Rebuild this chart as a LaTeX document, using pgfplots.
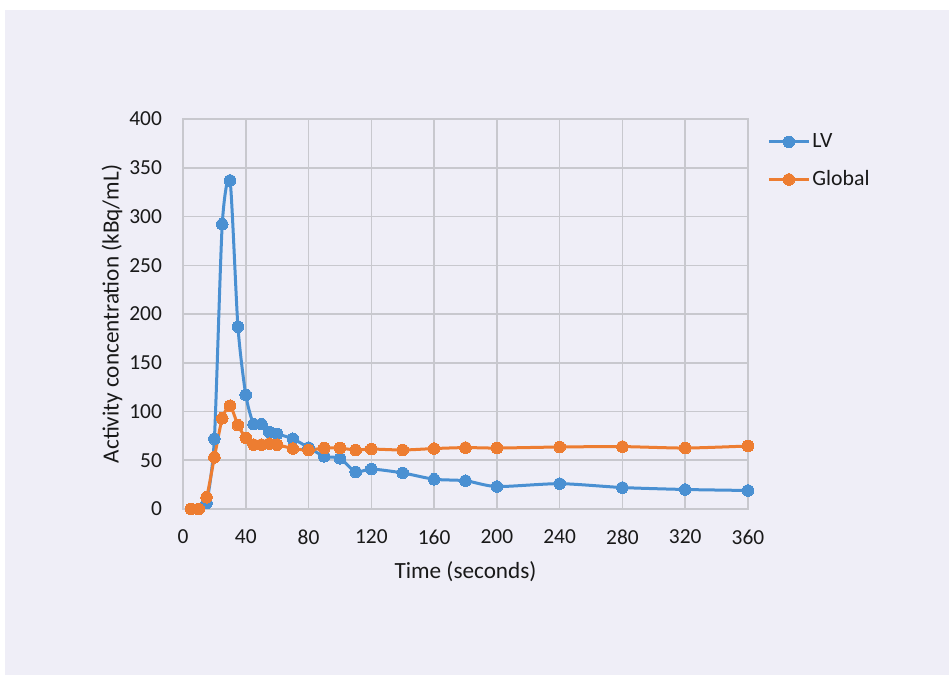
\documentclass[border=0pt]{standalone}
\usepackage{fontspec}
\setmainfont{Carlito}
\usepackage{pgfplots}
\pgfplotsset{compat=1.18}
\definecolor{bg}{RGB}{239,238,247}
\definecolor{lvblue}{RGB}{74,144,210}
\definecolor{glorange}{RGB}{237,125,49}
\definecolor{gridgray}{RGB}{200,200,206}
\begin{document}
\begin{tikzpicture}[x=1pt,y=1pt]
\path[fill=white] (0,0) rectangle (474.5,337.5);
\path[fill=bg] (2.5,0) rectangle (474.5,332.5);
\begin{axis}[
  at={(91.5pt,83pt)}, anchor=south west,
  scale only axis, width=282.5pt, height=195pt,
  xmin=0, xmax=360, ymin=0, ymax=400,
  xtick={0,40,...,360}, ytick={0,50,...,400},
  grid=major, major grid style={gridgray, line width=0.75pt},
  axis line style={gridgray, line width=0.75pt},
  major tick length=0pt,
  /pgf/number format/assume math mode=true,
  tick label style={font=\fontsize{10.7}{12}\selectfont, text=black!90},
  xticklabel style={yshift=-7pt},
  yticklabel style={xshift=-7pt},
  xlabel={Time (seconds)},
  ylabel={Activity concentration (kBq/mL)},
  label style={font=\fontsize{11.6}{13}\selectfont, text=black!90},
  xlabel style={at={(axis description cs:0.5,-0.1615)}, anchor=center},
  ylabel style={at={(axis description cs:-0.1257,0.5)}, anchor=center},
  clip=false,
  legend style={at={(axis description cs:1,1)}, anchor=north west, xshift=9.5pt, yshift=-6pt,
    draw=none, fill=none, inner sep=0pt, row sep=8pt,
    font=\fontsize{10.9}{12}\selectfont, text=black!90,
    nodes={inner sep=1pt}},
  legend cell align=left,
  legend image code/.code={\draw[#1, mark repeat=2, mark phase=2] plot coordinates {(0pt,0pt) (10pt,0pt) (20pt,0pt)};},
]
\addplot[lvblue, line width=1.5pt, smooth, tension=0.4, mark=*, mark size=2.9pt, mark options={fill=lvblue, draw=lvblue, line width=0pt}]
coordinates {
(5,0) (10,0) (15,6) (20,72) (25,292) (30,337) (35,187) (40,117) (45,87) (50,87) (55,79) (60,77)
(70,72) (80,63) (90,54) (100,52) (110,38) (120,41) (140,37) (160,30.5) (180,29) (200,23)
(240,26) (280,22) (320,20) (360,19)
};
\addlegendentry{LV}
\addplot[glorange, line width=1.5pt, smooth, tension=0.4, mark=*, mark size=2.9pt, mark options={fill=glorange, draw=glorange, line width=0pt}]
coordinates {
(5,0) (10,0) (15,12) (20,53) (25,93) (30,106) (35,86) (40,73) (45,66) (50,66) (55,67) (60,66)
(70,62) (80,60.5) (90,62.5) (100,62.5) (110,60.5) (120,61.5) (140,60.5) (160,62) (180,63) (200,62.5)
(240,63.6) (280,64) (320,62.5) (360,64.6)
};
\addlegendentry{Global}
\end{axis}
\end{tikzpicture}
\end{document}
